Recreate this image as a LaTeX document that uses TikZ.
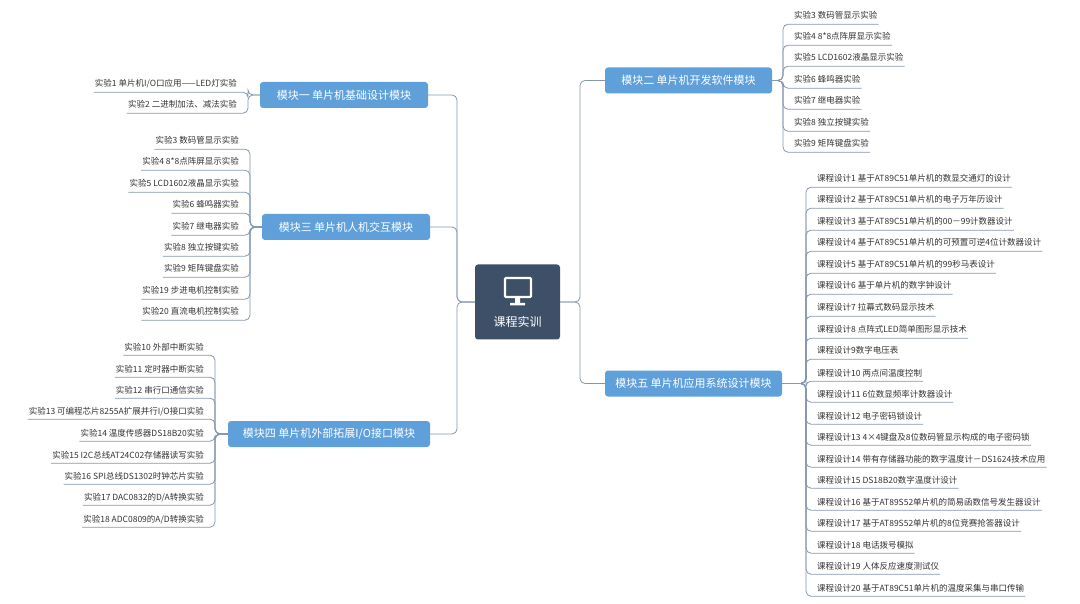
\documentclass[tikz,border=0pt]{standalone}
\usepackage{fontspec}
\setmainfont{Noto Sans CJK SC}
\begin{document}
\begin{tikzpicture}[x=1pt,y=-1pt,
  conn/.style={draw=linec,line width=0.8pt,rounded corners=5pt},
  mod/.style={fill=modblue,rounded corners=3pt,text=white,font=\fontsize{11}{13}\selectfont,minimum height=26pt,inner xsep=8pt},
  leaf/.style={text=txt,font=\fontsize{8.5}{10}\selectfont,text height=8pt,text depth=2pt,inner xsep=1pt,inner ysep=3pt}]
\definecolor{linec}{HTML}{8597AE}
\definecolor{modblue}{HTML}{5FA0DB}
\definecolor{txt}{HTML}{333333}
\definecolor{cbox}{HTML}{3D5068}
\useasboundingbox (0,0) rectangle (1080,604);
% centre
\node[fill=cbox,rounded corners=3pt,minimum width=85pt,minimum height=75pt] (C) at (517.5,302) {};
\node[text=white,font=\fontsize{12}{14}\selectfont] (Ct) at (517.5,322) {课程实训};
\draw[white,line width=2.2pt,rounded corners=1pt] (505,278) rectangle (531,297);
\fill[white] (515,297) rectangle (520,303) (510,303) rectangle (525,305.5);
% modules
\node[mod,minimum width=168pt] (M1) at (344,95) {模块一 单片机基础设计模块};
\node[mod,minimum width=168pt] (M3) at (346,227) {模块三 单片机人机交互模块};
\node[mod,minimum width=202pt] (M4) at (329,434) {模块四 单片机外部拓展I/O接口模块};
\node[mod,minimum width=167pt] (M2) at (688.5,80.5) {模块二 单片机开发软件模块};
\node[mod,minimum width=177pt] (M5) at (693.5,383.5) {模块五 单片机应用系统设计模块};
% trunk
\foreach \m in {M1,M3,M4} \draw[conn] (C.west) -- (457,302) |- (\m.east);
\foreach \m in {M2,M5} \draw[conn] (C.east) -- (580,302) |- (\m.west);
% module 1 leaves
\foreach \y/\t [count=\i] in {84/{实验1 单片机I/O口应用——LED灯实验},105/{实验2 二进制加法、减法实验}}{
  \node[leaf,anchor=east] (La\i) at (238,\y) {\t};
  \draw[conn] (M1.west) -- (248,95) |- (La\i.south west);}
% module 3 leaves
\foreach \y/\t [count=\i] in {141/{实验3 数码管显示实验},162/{实验4 8*8点阵屏显示实验},184/{实验5 LCD1602液晶显示实验},205/{实验6 蜂鸣器实验},227/{实验7 继电器实验},248/{实验8 独立按键实验},269/{实验9 矩阵键盘实验},291/{实验19 步进电机控制实验},312/{实验20 直流电机控制实验}}{
  \node[leaf,anchor=east] (Lc\i) at (240,\y) {\t};
  \draw[conn] (M3.west) -- (250,227) |- (Lc\i.south west);}
% module 4 leaves
\foreach \y/\t [count=\i] in {347/{实验10 外部中断实验},369/{实验11 定时器中断实验},390/{实验12 串行口通信实验},411/{实验13 可编程芯片8255A扩展并行I/O接口实验},433/{实验14 温度传感器DS18B20实验},455/{实验15 I2C总线AT24C02存储器读写实验},476/{实验16 SPI总线DS1302时钟芯片实验},497/{实验17 DAC0832的D/A转换实验},519/{实验18 ADC0809的A/D转换实验}}{
  \node[leaf,anchor=east] (Ld\i) at (205,\y) {\t};
  \draw[conn] (M4.west) -- (215,434) |- (Ld\i.south west);}
% module 2 leaves
\foreach \y/\t [count=\i] in {16/{实验3 数码管显示实验},37/{实验4 8*8点阵屏显示实验},58/{实验5 LCD1602液晶显示实验},80/{实验6 蜂鸣器实验},101/{实验7 继电器实验},123/{实验8 独立按键实验},144/{实验9 矩阵键盘实验}}{
  \node[leaf,anchor=west] (Lb\i) at (793,\y) {\t};
  \draw[conn] (M2.east) -- (783,80.5) |- (Lb\i.south east);}
% module 5 leaves
\foreach \y/\t [count=\i] in {179/{课程设计1 基于AT89C51单片机的数显交通灯的设计},200/{课程设计2 基于AT89C51单片机的电子万年历设计},222/{课程设计3 基于AT89C51单片机的00－99计数器设计},243/{课程设计4 基于AT89C51单片机的可预置可逆4位计数器设计},265/{课程设计5 基于AT89C51单片机的99秒马表设计},286/{课程设计6 基于单片机的数字钟设计},308/{课程设计7 拉幕式数码显示技术},330/{课程设计8 点阵式LED简单图形显示技术},351/{课程设计9数字电压表},373/{课程设计10 两点间温度控制},394/{课程设计11 6位数显频率计数器设计},416/{课程设计12 电子密码锁设计},437/{课程设计13 4×4键盘及8位数码管显示构成的电子密码锁},459/{课程设计14 带有存储器功能的数字温度计－DS1624技术应用},480/{课程设计15 DS18B20数字温度计设计},502/{课程设计16 基于AT89S52单片机的简易函数信号发生器设计},523/{课程设计17 基于AT89S52单片机的8位竞赛抢答器设计},545/{课程设计18 电话拨号模拟},566/{课程设计19 人体反应速度测试仪},588/{课程设计20 基于AT89C51单片机的温度采集与串口传输}}{
  \node[leaf,anchor=west] (Le\i) at (816,\y) {\t};
  \draw[conn] (M5.east) -- (806,383.5) |- (Le\i.south east);}
\end{tikzpicture}
\end{document}
